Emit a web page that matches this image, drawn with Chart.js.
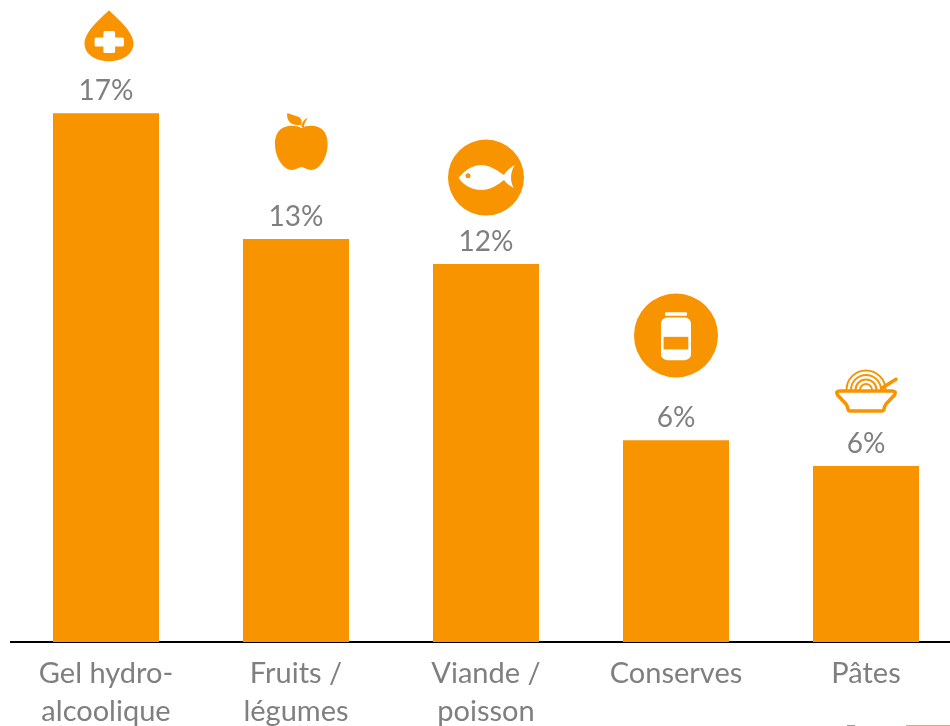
<!DOCTYPE html>
<html>
<head>
<meta charset="utf-8">
<script src="https://cdn.jsdelivr.net/npm/chart.js@4"></script>
<style>
  html, body { margin: 0; padding: 0; background: #fff; overflow: hidden; }
  canvas { display: block; }
</style>
</head>
<body>
<canvas id="chart" width="961" height="726"></canvas>
<script>
// data
var categories = [["Gel hydro-", "alcoolique"], ["Fruits /", "légumes"], ["Viande /", "poisson"], "Conserves", "Pâtes"];
var shares = [17.0, 12.96, 12.15, 6.49, 5.66];
var icons = ["drop", "apple", "fish", "jar", "bowl"];

var ORANGE = "#f79400";
var GREY = "#7f7f7f";
var LABEL_FONT = "Lato, Carlito, sans-serif";

// icons are drawn relative to the top centre of their bar
var drawIcon = {
    drop: function(ctx) {
        ctx.fill(new Path2D("M3,-103 C-3,-97 -21.5,-82 -21.5,-70 C-21.5,-58 -9,-52 3,-52 C15,-52 27.5,-58 27.5,-70 C27.5,-82 9,-97 3,-103 Z"));
        ctx.fillStyle = "#fff";
        ctx.beginPath();
        ctx.roundRect(-11.4, -75.8, 29.4, 9, 1.5);
        ctx.roundRect(-2.6, -82.3, 11.7, 22, 1.5);
        ctx.fill();
    },
    apple: function(ctx) {
        ctx.fill(new Path2D("M5.4,-111 C-3,-115 -21,-115 -21,-95 C-21,-82 -13,-69 -4,-69 C0,-69 3,-72 5.4,-72 C8,-72 11,-69 15,-69 C24,-69 31.6,-82 31.6,-95 C31.6,-115 14,-115 5.4,-111 Z"));
        ctx.fill(new Path2D("M-8.8,-126 L3,-122 C6,-120 6,-117 5,-114 C-2,-113 -10,-116 -8.8,-126 Z"));
        ctx.fill(new Path2D("M5.5,-112 C5.5,-116 8,-120 11.6,-121 C10,-118 8,-116 8,-112 Z"));
    },
    fish: function(ctx) {
        ctx.beginPath();
        ctx.arc(0, -86.5, 38, 0, Math.PI * 2);
        ctx.fill();
        ctx.fillStyle = "#fff";
        ctx.fill(new Path2D("M-27.4,-86.3 C-20,-95 -12,-99 -5,-99 C4,-99 12,-93 18,-89 C21,-94 25,-97 28.8,-99 C24,-92 24,-82 27.8,-76 C24,-78 20,-81 18,-84 C12,-79 4,-74 -5,-74 C-13,-74 -22,-78 -27.4,-86.3 Z"));
        ctx.fillStyle = ORANGE;
        ctx.beginPath();
        ctx.arc(-18, -88.3, 2.5, 0, Math.PI * 2);
        ctx.fill();
    },
    jar: function(ctx) {
        ctx.beginPath();
        ctx.arc(0, -104.7, 42, 0, Math.PI * 2);
        ctx.fill();
        ctx.fillStyle = "#fff";
        ctx.beginPath();
        ctx.roundRect(-11, -128, 22, 3.7, 1);
        ctx.roundRect(-15, -122.7, 30, 42.7, 6);
        ctx.fill();
        ctx.fillStyle = ORANGE;
        ctx.fillRect(-12.4, -103.3, 24.7, 12.6);
    },
    bowl: function(ctx) {
        ctx.strokeStyle = ORANGE;
        ctx.lineCap = "round";
        ctx.lineJoin = "round";
        ctx.lineWidth = 3.5;
        ctx.stroke(new Path2D("M-26,-75 L26,-75 Q31,-75 28.5,-71 L20,-62 Q18.5,-60 18,-57 Q18,-55 15,-55 L-15,-55 Q-18,-55 -18,-57 Q-18.5,-60 -20,-62 L-28.5,-71 Q-31,-75 -26,-75 Z"));
        ctx.stroke(new Path2D("M15.7,-77.7 L30,-86.7"));
        ctx.lineWidth = 2;
        ctx.lineCap = "butt";
        [19.5, 15, 10.5, 6].forEach(function(r) {
            ctx.beginPath();
            ctx.arc(0, -76, r, Math.PI, Math.PI * 2);
            ctx.stroke();
        });
    }
};

// value labels and icons above the bars, plus the cut off logo in the corner
var barDecor = {
    id: "barDecor",
    afterDatasetsDraw: function(chart) {
        var ctx = chart.ctx;
        chart.getDatasetMeta(0).data.forEach(function(bar, i) {
            ctx.save();
            ctx.fillStyle = GREY;
            ctx.font = "28px " + LABEL_FONT;
            ctx.textAlign = "center";
            ctx.textBaseline = "alphabetic";
            ctx.fillText(shares[i].toFixed(0) + "%", bar.x, bar.y - 13);
            ctx.translate(bar.x, bar.y);
            ctx.fillStyle = ORANGE;
            drawIcon[icons[i]](ctx);
            ctx.restore();
        });
        ctx.save();
        ctx.fillStyle = "#f2a566";
        ctx.fillRect(906, 725, 44, 1);
        ctx.fillStyle = "#9a9a9a";
        ctx.fillRect(847, 725, 8, 1);
        ctx.restore();
    }
};

var config = {
    type: "bar",
    data: {
        labels: categories,
        datasets: [{
            data: shares,
            backgroundColor: ORANGE,
            borderWidth: 0,
            barPercentage: 0.558,
            categoryPercentage: 1
        }]
    },
    options: {
        responsive: false,
        animation: false,
        layout: { padding: { left: 11, right: 0, top: 0, bottom: 0 } },
        plugins: { legend: { display: false }, tooltip: { enabled: false } },
        scales: {
            x: {
                grid: { display: false, drawTicks: false },
                border: { color: "#000", width: 2 },
                afterFit: function(scale) { scale.height = 84; },
                ticks: {
                    color: GREY,
                    font: { family: LABEL_FONT, size: 29, lineHeight: 1.31 },
                    padding: 13,
                    maxRotation: 0,
                    autoSkip: false
                }
            },
            y: { display: false, min: 0, max: 20.64 }
        }
    },
    plugins: [barDecor]
};

new Chart(document.getElementById("chart").getContext("2d"), config);
</script>
</body>
</html>
